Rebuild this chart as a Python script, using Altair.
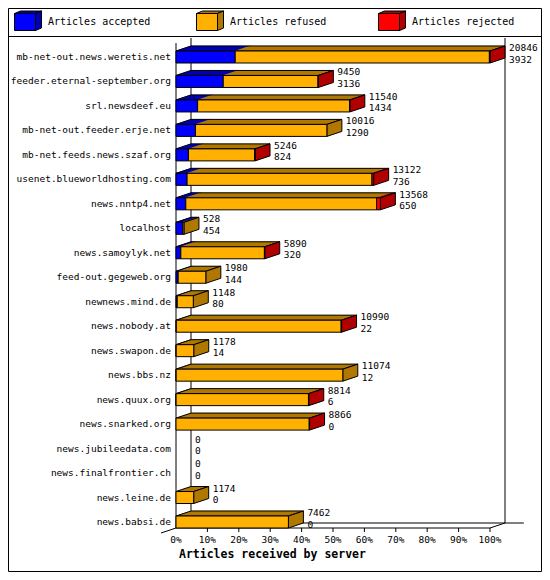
import altair as alt
import pandas as pd

# ---------------- data ----------------
HOSTS = [
    "mb-net-out.news.weretis.net", "feeder.eternal-september.org", "srl.newsdeef.eu",
    "mb-net-out.feeder.erje.net", "mb-net.feeds.news.szaf.org", "usenet.blueworldhosting.com",
    "news.nntp4.net", "localhost", "news.samoylyk.net", "feed-out.gegeweb.org",
    "newnews.mind.de", "news.nobody.at", "news.swapon.de", "news.bbs.nz", "news.quux.org",
    "news.snarked.org", "news.jubileedata.com", "news.finalfrontier.ch", "news.leine.de",
    "news.babsi.de",
]
TOTAL = [20846, 9450, 11540, 10016, 5246, 13122, 13568, 528, 5890, 1980,
         1148, 10990, 1178, 11074, 8814, 8866, 0, 0, 1174, 7462]
ACCEPTED = [3932, 3136, 1434, 1290, 824, 736, 650, 454, 320, 144,
            80, 22, 14, 12, 6, 0, 0, 0, 0, 0]
REFUSED = [16874, 6294, 10086, 8726, 4407, 12276, 12668, 74, 5550, 1836,
           1068, 10943, 1164, 11062, 8788, 8846, 0, 0, 1174, 7462]
REJECTED = [40, 20, 20, 0, 15, 110, 250, 0, 20, 0,
            0, 25, 0, 0, 20, 20, 0, 0, 0, 0]
SERIES = ["Articles accepted", "Articles refused", "Articles rejected"]
TICKS = [0, 10, 20, 30, 40, 50, 60, 70, 80, 90, 100]
TICK_LABELS = ["0%", "10%", "20%", "30%", "40%", "50%", "60%", "70%", "80%", "90%", "100%"]
X_TITLE = "Articles received by server"

# ---------------- style / layout ----------------
FRONT = ["#0000FF", "#FFB000", "#FF0000"]
DARK = ["#0000B0", "#B07800", "#B00000"]
FONT = "DejaVu Sans Mono"
W, H = 534, 564
X0, X100 = 168, 482
ROW_FIRST, ROW_LAST = 49, 514
NROWS = len(HOSTS)
PX_X = (X100 - X0) / 100.0
PX_Y = (ROW_LAST - ROW_FIRST) / (NROWS - 1)
DX = 15 / PX_X          # depth in percent units
DY = 5 / PX_Y           # depth in row units
HALF = 6 / PX_Y         # half bar height in row units
FLOOR = (NROWS - 1) + HALF
TOP_FRONT = -14 / PX_Y
TICK_LEN = 4 / PX_Y
MAXV = max(TOTAL)

xs = alt.Scale(domain=[0, 100], range=[X0, X100], nice=False, zero=False)
ys = alt.Scale(domain=[0, NROWS - 1], range=[ROW_FIRST, ROW_LAST], nice=False, zero=False)

# ---------------- build geometry tables from data ----------------
front_rows, top_rows, side_rows, outline_rows, label_rows = [], [], [], [], []
for i, host in enumerate(HOSTS):
    cum = 0
    last = None
    for k, vals in enumerate((ACCEPTED, REFUSED, REJECTED)):
        v = vals[i]
        if v <= 0:
            continue
        a = cum / MAXV * 100
        b = (cum + v) / MAXV * 100
        cum += v
        sid = f"{i}-{k}"
        front_rows.append(dict(seg=sid, xa=a, xb=b, ya=i - HALF, yb=i + HALF, col=FRONT[k]))
        top_rows.append(dict(seg=sid, y=i - HALF, xa=a, xb=b, col=DARK[k]))
        top_rows.append(dict(seg=sid, y=i - HALF - DY, xa=a + DX, xb=b + DX, col=DARK[k]))
        last = k
    end = cum / MAXV * 100
    if cum > 0:
        side_rows.append(dict(bar=i, x=end, ya=i - HALF, yb=i + HALF, col=DARK[last]))
        side_rows.append(dict(bar=i, x=end + DX, ya=i - HALF - DY, yb=i + HALF - DY, col=DARK[last]))
        outline_rows.append(dict(bar=i, y=i - HALF, xa=0, xb=end))
        outline_rows.append(dict(bar=i, y=i - HALF - DY, xa=DX, xb=end + DX))
    label_rows.append(dict(row=i, host=host, tot=str(TOTAL[i]), acc=str(ACCEPTED[i]),
                           xl=TOTAL[i] / MAXV * 100 + DX))

walls = [
    dict(x=0, x2=0, y=TOP_FRONT, y2=FLOOR),
    dict(x=DX, x2=DX, y=TOP_FRONT - DY, y2=FLOOR - DY),
    dict(x=100 + DX, x2=100 + DX, y=TOP_FRONT - DY, y2=FLOOR - DY),
    dict(x=0, x2=100, y=FLOOR, y2=FLOOR),
    dict(x=DX, x2=100 + DX + 6, y=FLOOR - DY, y2=FLOOR - DY),
    dict(x=100, x2=100 + DX, y=FLOOR, y2=FLOOR - DY),
    dict(x=0, x2=-DX, y=FLOOR, y2=FLOOR + DY),
]
for t in TICKS[1:]:
    walls.append(dict(x=t, x2=t, y=FLOOR, y2=FLOOR + TICK_LEN))

tick_df = pd.DataFrame(dict(t=TICKS, lab=TICK_LABELS, y=[FLOOR] * len(TICKS)))

# ---------------- layers ----------------
wall_layer = alt.Chart(pd.DataFrame(walls)).mark_rule(color="black", strokeWidth=1).encode(
    x=alt.X("x:Q", scale=xs, axis=None), x2="x2:Q",
    y=alt.Y("y:Q", scale=ys, axis=None), y2="y2:Q",
)

top_layer = alt.Chart(pd.DataFrame(top_rows)).mark_area(orient="horizontal", strokeWidth=0.5).encode(
    y=alt.Y("y:Q", scale=ys, axis=None),
    x=alt.X("xa:Q", scale=xs, axis=None, stack=None), x2="xb:Q",
    detail="seg:N",
    fill=alt.Fill("col:N", scale=None),
    stroke=alt.Stroke("col:N", scale=None),
)

outline_layer = alt.Chart(pd.DataFrame(outline_rows)).mark_area(
    orient="horizontal", fillOpacity=0, stroke="black", strokeWidth=1
).encode(
    y=alt.Y("y:Q", scale=ys, axis=None),
    x=alt.X("xa:Q", scale=xs, axis=None, stack=None), x2="xb:Q",
    detail="bar:N",
)

side_layer = alt.Chart(pd.DataFrame(side_rows)).mark_area(
    orient="vertical", stroke="black", strokeWidth=1
).encode(
    x=alt.X("x:Q", scale=xs, axis=None),
    y=alt.Y("ya:Q", scale=ys, axis=None, stack=None), y2="yb:Q",
    detail="bar:N",
    fill=alt.Fill("col:N", scale=None),
)

front_layer = alt.Chart(pd.DataFrame(front_rows)).mark_rect(stroke="black", strokeWidth=1).encode(
    x=alt.X("xa:Q", scale=xs, axis=None), x2="xb:Q",
    y=alt.Y("ya:Q", scale=ys, axis=None), y2="yb:Q",
    fill=alt.Fill("col:N", scale=None),
)

lab_df = pd.DataFrame(label_rows)
host_layer = alt.Chart(lab_df).mark_text(
    font=FONT, fontSize=9.5, align="right", baseline="middle", color="black"
).encode(x=alt.value(X0 - 5), y=alt.Y("row:Q", scale=ys, axis=None), text="host:N")

tot_layer = alt.Chart(lab_df).mark_text(
    font=FONT, fontSize=9.5, align="left", baseline="middle", dx=4, dy=-9, color="black"
).encode(x=alt.X("xl:Q", scale=xs, axis=None), y=alt.Y("row:Q", scale=ys, axis=None), text="tot:N")

acc_layer = alt.Chart(lab_df).mark_text(
    font=FONT, fontSize=9.5, align="left", baseline="middle", dx=4, dy=2.5, color="black"
).encode(x=alt.X("xl:Q", scale=xs, axis=None), y=alt.Y("row:Q", scale=ys, axis=None), text="acc:N")

tick_layer = alt.Chart(tick_df).mark_text(
    font=FONT, fontSize=9.5, align="center", baseline="middle", dy=12, color="black"
).encode(x=alt.X("t:Q", scale=xs, axis=None), y=alt.Y("y:Q", scale=ys, axis=None), text="lab:N")

title_layer = alt.Chart(pd.DataFrame(dict(t=[X_TITLE]))).mark_text(
    font=FONT, fontSize=11.5, fontWeight="bold", align="left", baseline="middle", color="black"
).encode(x=alt.value(X0 + 3), y=alt.value(547), text="t:N")

one = pd.DataFrame(dict(a=[0]))
frame_layer = alt.Chart(one).mark_rect(fillOpacity=0, stroke="black", strokeWidth=1).encode(
    x=alt.value(0.5), x2=alt.value(W - 0.5), y=alt.value(0.5), y2=alt.value(H - 0.5)
)
sep_layer = alt.Chart(one).mark_rule(color="black", strokeWidth=1).encode(
    x=alt.value(0), x2=alt.value(W), y=alt.value(28.5)
)

# legend cubes (decoration, pixel placed)
LEG_X = [6, 188, 370]
LEG_Y = 5
CUBE_FRONT = "M0,0H21V17H0Z"
CUBE_TOP = "M0,0L6,-2.5H27L21,0Z"
CUBE_SIDE = "M21,0L27,-2.5V14.5L21,17Z"
legend_layers = []
for k, s in enumerate(SERIES):
    for shape, col in ((CUBE_TOP, DARK[k]), (CUBE_SIDE, DARK[k]), (CUBE_FRONT, FRONT[k])):
        legend_layers.append(
            alt.Chart(one).mark_point(shape=shape, size=4, filled=True, fill=col, stroke="black",
                                      strokeWidth=1, opacity=1).encode(
                x=alt.value(LEG_X[k] + 0.5), y=alt.value(LEG_Y + 0.5))
        )
    legend_layers.append(
        alt.Chart(pd.DataFrame(dict(t=[s]))).mark_text(
            font=FONT, fontSize=10, align="left", baseline="middle", color="black"
        ).encode(x=alt.value(LEG_X[k] + 34), y=alt.value(LEG_Y + 9), text="t:N")
    )

chart = alt.layer(
    wall_layer, top_layer, outline_layer, side_layer, front_layer,
    host_layer, tot_layer, acc_layer, tick_layer, title_layer,
    sep_layer, *legend_layers, frame_layer,
).properties(
    width=W, height=H, autosize=alt.AutoSizeParams(type="none"), padding=0,
    background="white",
).configure_view(stroke=None)

chart.save("out.html", embed_options={"renderer": "svg", "actions": False})
